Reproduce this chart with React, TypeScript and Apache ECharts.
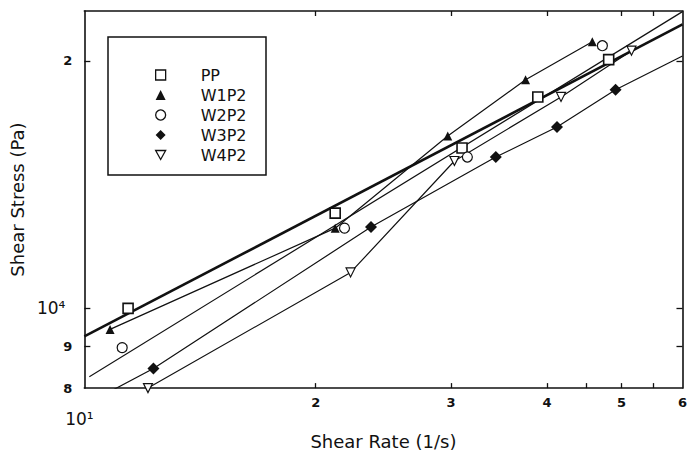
import React, { useEffect, useRef } from 'react';
import * as echarts from 'echarts';

// ---- data (shear rate in 1/s, shear stress in Pa) ----
const seriesNames = ['PP', 'W1P2', 'W2P2', 'W3P2', 'W4P2'];

const ppPoints = [[11.4, 10000], [21.2, 13060], [31.0, 15670], [38.9, 18080], [48.1, 20070]];
const ppFitLine = [[10, 9245], [60, 22150]];

const w1p2Points = [[10.8, 9430], [21.2, 12520], [29.7, 16210], [37.5, 18970], [45.8, 21100]];

const w2p2Points = [[11.2, 8960], [21.8, 12520], [31.5, 15280], [47.2, 20870]];
const w2p2FitLine = [[10.15, 8260], [60, 22960]];

const w3p2Points = [[12.3, 8450], [23.6, 12560], [34.3, 15280], [41.2, 16620], [49.1, 18450]];
const w3p2LineStart = [10.9, 7960];
const w3p2LineEnd = [60, 20280];

const w4p2Points = [[12.1, 8000], [22.2, 11060], [30.3, 15110], [41.7, 18080], [51.5, 20580]];

const xRange = [10, 60];
const yRange = [8000, 23000];
const xTickValues = [10, 20, 30, 40, 50, 60];
const xTickLabels = ['10¹', '2', '3', '4', '5', '6'];
const xBottomTicks = [20, 30, 40, 45, 50, 55];
const xTopTicks = [20, 30, 40, 50, 55];
const yTickValues = [8000, 9000, 10000, 20000];
const yTickLabels = ['8', '9', '10⁴', '2'];
const ySideTicks = [9000, 10000, 20000];

const FONT = 'DejaVu Sans';
const INK = '#111';

const lg = (v: number) => Math.log10(v);
const toLog = (pts: number[][]) => pts.map(([x, y]) => [lg(x), lg(y)]);
const findIdx = (vals: number[], v: number) => vals.findIndex((t) => Math.abs(lg(t) - v) < 1e-6);

export default function App() {
  const ref = useRef<HTMLDivElement>(null);

  useEffect(() => {
    if (!ref.current) return;
    const chart = echarts.init(ref.current, undefined, { renderer: 'svg' });

    const axisLine = { show: true, lineStyle: { color: INK, width: 1.6 } };
    const tickStyle = { color: INK, width: 1.3 };

    const lineSeries = (name: string, data: number[][], width: number) => ({
      type: 'line',
      name,
      data: toLog(data),
      showSymbol: false,
      symbol: 'none',
      clip: true,
      lineStyle: { color: INK, width },
      z: 2,
      silent: true,
    });

    const markerSeries = (name: string, data: number[][], symbol: string, size: number, itemStyle: any) => ({
      type: 'scatter',
      name,
      data: toLog(data),
      symbol,
      symbolSize: size,
      itemStyle: { opacity: 1, ...itemStyle },
      z: 5,
      silent: true,
    });

    const option: any = {
      animation: false,
      backgroundColor: '#fff',
      textStyle: { fontFamily: FONT },
      grid: { left: 82, top: 11, right: 1, bottom: 66, containLabel: false },
      xAxis: [
        {
          type: 'value',
          min: lg(xRange[0]),
          max: lg(xRange[1]),
          position: 'bottom',
          axisLine,
          splitLine: { show: false },
          axisTick: { show: true, inside: true, length: 5, lineStyle: tickStyle, customValues: xBottomTicks.map(lg) },
          axisLabel: {
            show: true,
            margin: 8,
            customValues: xTickValues.map(lg),
            formatter: (v: number) => {
              const i = findIdx(xTickValues, v);
              if (i < 0) return '';
              return i === 0 ? `{big|${xTickLabels[i]}}` : `{sm|${xTickLabels[i]}}`;
            },
            rich: {
              big: { fontSize: 17, color: INK, fontFamily: FONT, padding: [14, 10, 0, 0] },
              sm: { fontSize: 13, fontWeight: 'bold', color: INK, fontFamily: FONT },
            },
          },
          name: 'Shear Rate (1/s)',
          nameLocation: 'middle',
          nameGap: 42,
          nameTextStyle: { fontSize: 18, color: INK, fontFamily: FONT },
        },
        {
          type: 'value',
          min: lg(xRange[0]),
          max: lg(xRange[1]),
          position: 'top',
          axisLine,
          splitLine: { show: false },
          axisTick: { show: true, inside: true, length: 5, lineStyle: tickStyle, customValues: xTopTicks.map(lg) },
          axisLabel: { show: false },
        },
      ],
      yAxis: [
        {
          type: 'value',
          min: lg(yRange[0]),
          max: lg(yRange[1]),
          position: 'left',
          axisLine,
          splitLine: { show: false },
          axisTick: { show: true, inside: true, length: 6, lineStyle: tickStyle, customValues: ySideTicks.map(lg) },
          axisLabel: {
            show: true,
            margin: 12,
            customValues: yTickValues.map(lg),
            formatter: (v: number) => {
              const i = findIdx(yTickValues, v);
              if (i < 0) return '';
              return i === 2 ? `{big|${yTickLabels[i]}}` : `{sm|${yTickLabels[i]}}`;
            },
            rich: {
              big: { fontSize: 17, color: INK, fontFamily: FONT, padding: [0, 7, 0, 0] },
              sm: { fontSize: 13, fontWeight: 'bold', color: INK, fontFamily: FONT },
            },
          },
          name: 'Shear Stress (Pa)',
          nameLocation: 'middle',
          nameGap: 52,
          nameRotate: 90,
          nameTextStyle: { fontSize: 18, color: INK, fontFamily: FONT },
        },
        {
          type: 'value',
          min: lg(yRange[0]),
          max: lg(yRange[1]),
          position: 'right',
          axisLine,
          splitLine: { show: false },
          axisTick: { show: true, inside: true, length: 6, lineStyle: tickStyle, customValues: ySideTicks.map(lg) },
          axisLabel: { show: false },
        },
      ],
      legend: {
        data: seriesNames,
        orient: 'vertical',
        left: 150,
        top: 60,
        itemWidth: 10,
        itemHeight: 10,
        itemGap: 0,
        symbolKeepAspect: true,
        selectedMode: false,
        itemStyle: { borderWidth: 1.3, opacity: 1 },
        textStyle: { fontSize: 16, lineHeight: 20, color: INK, fontFamily: FONT, padding: [0, 0, 0, 30] },
      },
      graphic: [
        {
          type: 'rect',
          shape: { x: 108, y: 37, width: 158, height: 138 },
          style: { fill: 'none', stroke: INK, lineWidth: 1.5 },
          z: 10,
        },
      ],
      series: [
        lineSeries('PP fit', ppFitLine, 2.6),
        lineSeries('W1P2 line', w1p2Points, 1.2),
        lineSeries('W2P2 fit', w2p2FitLine, 1.2),
        lineSeries('W3P2 line', [w3p2LineStart, ...w3p2Points, w3p2LineEnd], 1.2),
        lineSeries('W4P2 line', w4p2Points, 1.2),
        markerSeries(seriesNames[0], ppPoints, 'rect', 10, { color: '#fff', borderColor: INK, borderWidth: 1.6 }),
        markerSeries(seriesNames[1], w1p2Points, 'triangle', 9, { color: INK }),
        markerSeries(seriesNames[2], w2p2Points, 'circle', 10, { color: '#fff', borderColor: INK, borderWidth: 1.2 }),
        markerSeries(seriesNames[3], w3p2Points, 'diamond', 12, { color: INK }),
        markerSeries(seriesNames[4], w4p2Points, 'path://M0,0L10,0L5,9Z', 9, { color: '#fff', borderColor: INK, borderWidth: 1.2 }),
      ],
    };

    chart.setOption(option);
    return () => chart.dispose();
  }, []);

  return (
    <div
      ref={ref}
      style={{ position: 'fixed', left: 0, top: 0, width: 690, height: 455, background: '#fff' }}
    />
  );
}
